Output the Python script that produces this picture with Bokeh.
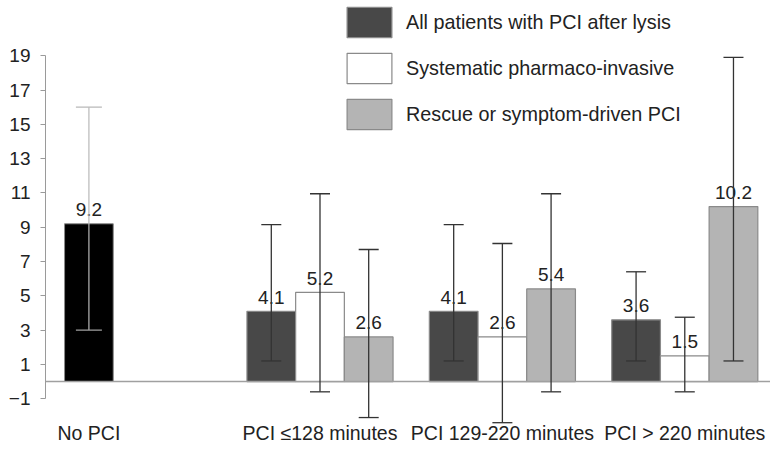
from bokeh.plotting import figure
from bokeh.models import (ColumnDataSource, Whisker, TeeHead, Span, FixedTicker,
                          Legend, LegendItem, Range1d)
from bokeh.core.properties import value
from bokeh.embed import file_html
from bokeh.resources import INLINE

# ---------------- data ----------------
categories = ["No PCI", "PCI \u2264128 minutes", "PCI 129-220 minutes", "PCI > 220 minutes"]
series_names = ["All patients with PCI after lysis",
                "Systematic pharmaco-invasive",
                "Rescue or symptom-driven PCI"]

no_pci_value = [9.2]
no_pci_lower = [3.0]
no_pci_upper = [16.0]

all_pci = [4.1, 4.1, 3.6]
all_pci_lower = [1.2, 1.2, 1.2]
all_pci_upper = [9.15, 9.15, 6.4]

systematic = [5.2, 2.6, 1.5]
systematic_lower = [-0.6, -2.4, -0.6]
systematic_upper = [10.95, 8.05, 3.75]

rescue = [2.6, 5.4, 10.2]
rescue_lower = [-2.1, -0.6, 1.2]
rescue_upper = [7.7, 10.95, 18.9]

y_ticks = [-1, 1, 3, 5, 7, 9, 11, 13, 15, 17, 19]

# ---------------- layout ----------------
FONT = value("Liberation Sans")
BAR_W = 0.267
group_x = [2, 3, 4]
no_pci_x = 1 - BAR_W
cat_x = [no_pci_x] + group_x
Y_START, Y_END = -3.73, 22.22
LABEL_Y = -3.02

p = figure(width=770, height=445,
           x_range=Range1d(0.495, 4.47), y_range=Range1d(Y_START, Y_END),
           output_backend="svg", toolbar_location=None,
           min_border_left=45, min_border_right=0, min_border_top=0, min_border_bottom=0)
p.xgrid.visible = False
p.ygrid.visible = False
p.outline_line_color = None
p.background_fill_color = "white"
p.border_fill_color = "white"
p.xaxis.visible = False

fills = ["#484848", "#ffffff", "#b4b4b4"]
vals = [all_pci, systematic, rescue]
lows = [all_pci_lower, systematic_lower, rescue_lower]
ups = [all_pci_upper, systematic_upper, rescue_upper]
offsets = [-BAR_W, 0.0, BAR_W]

# No PCI bar
src0 = ColumnDataSource(dict(x=[no_pci_x], top=no_pci_value, lower=no_pci_lower,
                             upper=no_pci_upper,
                             lab=[f"{v:.1f}" for v in no_pci_value]))
p.vbar(x="x", top="top", bottom=0, width=BAR_W, source=src0,
       fill_color="#000000", line_color="#8a8a8a", line_width=1)

renderers = []
sources = []
for vs, lo, up, off, fc in zip(vals, lows, ups, offsets, fills):
    src = ColumnDataSource(dict(x=[g + off for g in group_x], top=vs, lower=lo, upper=up,
                                lab=[f"{v:.1f}" for v in vs]))
    sources.append(src)
    r = p.vbar(x="x", top="top", bottom=0, width=BAR_W, source=src,
               fill_color=fc, line_color="#8a8a8a", line_width=1.2)
    renderers.append(r)

# baseline at zero
p.add_layout(Span(location=0, dimension="width", line_color="#a0a0a0", line_width=1.5))

# error bars
w0 = Whisker(source=src0, base="x", upper="upper", lower="lower", dimension="height",
             line_color="#b8b8b8", line_width=1.2,
             upper_head=TeeHead(size=26, line_color="#b8b8b8", line_width=1.2),
             lower_head=TeeHead(size=26, line_color="#a0a0a0", line_width=1.2))
w0.level = "overlay"
p.add_layout(w0)
for src in sources:
    w = Whisker(source=src, base="x", upper="upper", lower="lower", dimension="height",
                line_color="#333333", line_width=1.3,
                upper_head=TeeHead(size=20, line_color="#333333", line_width=1.3),
                lower_head=TeeHead(size=20, line_color="#333333", line_width=1.3))
    w.level = "overlay"
    p.add_layout(w)

# value labels
for src in [src0] + sources:
    p.text(x="x", y="top", text="lab", source=src, text_align="center",
           text_baseline="middle", y_offset=-14, text_font=FONT,
           text_font_size="19px", text_color="#222222")

# category labels (drawn as text under the baseline)
cat_src = ColumnDataSource(dict(x=cat_x, y=[LABEL_Y] * len(cat_x), text=categories))
p.text(x="x", y="y", text="text", source=cat_src, text_align="center",
       text_baseline="middle", text_font=FONT, text_font_size="19.5px",
       text_color="#222222")

ya = p.yaxis[0]
ya.ticker = FixedTicker(ticks=y_ticks)
ya.bounds = (-1, 19)
ya.axis_line_color = "#9a9a9a"
ya.major_tick_line_color = "#9a9a9a"
ya.minor_tick_line_color = None
ya.major_tick_in = 0
ya.major_tick_out = 5
ya.major_label_standoff = 10
ya.major_label_text_font = "Liberation Sans"
ya.major_label_text_font_size = "19px"
ya.major_label_text_color = "#222222"

legend = Legend(items=[LegendItem(label=n, renderers=[r]) for n, r in zip(series_names, renderers)],
                location=(296, 312), glyph_width=56, glyph_height=38, spacing=8,
                label_standoff=9, padding=0, margin=0,
                border_line_alpha=0, background_fill_alpha=0,
                label_text_font="Liberation Sans", label_text_font_size="19.8px",
                label_text_color="#222222")
p.add_layout(legend)

open("out.html", "w").write(file_html(p, INLINE))
